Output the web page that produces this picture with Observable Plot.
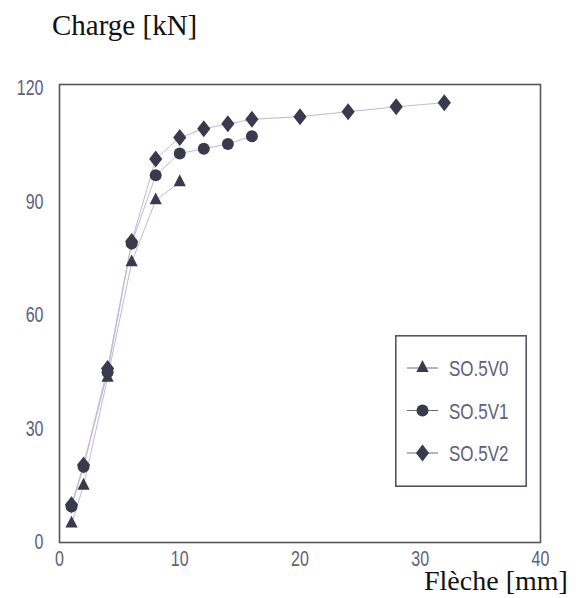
<!DOCTYPE html>
<html>
<head>
<meta charset="utf-8">
<script src="https://cdn.jsdelivr.net/npm/d3@7"></script>
<script src="https://cdn.jsdelivr.net/npm/@observablehq/plot@0.6"></script>
<style>
  html, body { margin: 0; padding: 0; background: #fff; }
  #wrap { position: relative; width: 578px; height: 598px; overflow: hidden; }
  #chart { position: absolute; left: 0; top: 0; }
  .title { position: absolute; font-family: "Liberation Serif", "Times New Roman", serif; color: #111; white-space: nowrap; line-height: 1; }
  #ytitle { left: 52px; top: 11px; font-size: 29px; }
  #xtitle { left: 424px; top: 567px; font-size: 28px; }
  #legend { position: absolute; left: 395px; top: 335px; }
</style>
</head>
<body>
<div id="wrap">
  <div id="chart"></div>
  <div class="title" id="ytitle">Charge [kN]</div>
  <div class="title" id="xtitle">Flèche [mm]</div>
  <div id="legend"></div>
</div>
<script>
// ---- data ----
const seriesNames = ["SO.5V0", "SO.5V1", "SO.5V2"];

const xV0 = [1, 2, 4, 6, 8, 10];
const yV0 = [5, 15, 43.5, 74, 90.4, 95.2];

const xV1 = [1, 2, 4, 6, 8, 10, 12, 14, 16];
const yV1 = [9.5, 20, 45, 79, 97, 102.8, 104, 105.3, 107.3];

const xV2 = [1, 2, 4, 6, 8, 10, 12, 14, 16, 20, 24, 28, 32];
const yV2 = [10, 20.5, 46, 79.5, 101.3, 107, 109.3, 110.6, 111.8, 112.5, 113.8, 115.1, 116.2];

const xTicks = [0, 10, 20, 30, 40];
const yTicks = [0, 30, 60, 90, 120];

// ---- marker shapes ----
const triSym = {draw(ctx, size) {
  const s = Math.sqrt(size), h = s * 1.12, w = s * 1.15;
  ctx.moveTo(0, -h * 2 / 3); ctx.lineTo(w / 2, h / 3); ctx.lineTo(-w / 2, h / 3); ctx.closePath();
}};
const diaSym = {draw(ctx, size) {
  const s = Math.sqrt(size), hh = s * 0.8, hw = s * 0.62;
  ctx.moveTo(0, -hh); ctx.lineTo(hw, 0); ctx.lineTo(0, hh); ctx.lineTo(-hw, 0); ctx.closePath();
}};
const symbols = [triSym, d3.symbolCircle, diaSym];

// ---- build tables ----
const toRows = (xs, ys, name) => xs.map((x, i) => ({x, y: ys[i], s: name}));
const rows = [
  ...toRows(xV0, yV0, seriesNames[0]),
  ...toRows(xV1, yV1, seriesNames[1]),
  ...toRows(xV2, yV2, seriesNames[2])
];

const lineColor = "#c3b7d6";
const markColor = "#3a3a4c";
const textColor = "#60607a";
const R = 6;

const chart = Plot.plot({
  width: 578,
  height: 598,
  marginLeft: 59,
  marginRight: 38,
  marginTop: 84,
  marginBottom: 56,
  style: {fontFamily: "'Liberation Sans', Arial, sans-serif", fontSize: "16px", color: textColor, background: "transparent"},
  x: {domain: [0, 40], ticks: xTicks, tickSize: 0, tickPadding: 8, label: null},
  y: {domain: [0, 121], ticks: yTicks, tickSize: 0, tickPadding: 16, label: null},
  symbol: {domain: seriesNames, range: symbols},
  marks: [
    Plot.frame({stroke: "#55555f", strokeWidth: 1.6}),
    Plot.line(rows, {x: "x", y: "y", z: "s", stroke: lineColor, strokeWidth: 1}),
    Plot.dot(rows, {x: "x", y: "y", symbol: "s", r: R, fill: markColor, stroke: "none"})
  ]
});
document.getElementById("chart").appendChild(chart);
// vertically stretch tick labels like the scanned reference
chart.querySelectorAll('g[aria-label$="tick label"] text').forEach(t => {
  const tr = t.getAttribute("transform") || "";
  t.setAttribute("transform", tr + " scale(1,1.35)");
});

// ---- legend ----
const lw = 132, lh = 152;
const lsvg = d3.select("#legend").append("svg").attr("width", lw).attr("height", lh);
lsvg.append("rect").attr("x", 0.8).attr("y", 0.8).attr("width", lw - 1.6).attr("height", lh - 1.6)
  .attr("fill", "#fff").attr("stroke", "#55555f").attr("stroke-width", 1.6);
seriesNames.forEach((name, i) => {
  const cy = 33 + i * 42.5;
  lsvg.append("line").attr("x1", 12).attr("x2", 43).attr("y1", cy).attr("y2", cy)
    .attr("stroke", "#6a6a7a").attr("stroke-width", 1);
  lsvg.append("path").attr("transform", `translate(27.5,${cy})`)
    .attr("d", d3.symbol(symbols[i], R * R * Math.PI)())
    .attr("fill", markColor);
  lsvg.append("text").attr("transform", `translate(54,${cy}) scale(1,1.35)`).attr("dy", "0.35em")
    .attr("font-family", "'Liberation Sans', Arial, sans-serif").attr("font-size", 17)
    .attr("fill", textColor).text(name);
});
</script>
</body>
</html>
